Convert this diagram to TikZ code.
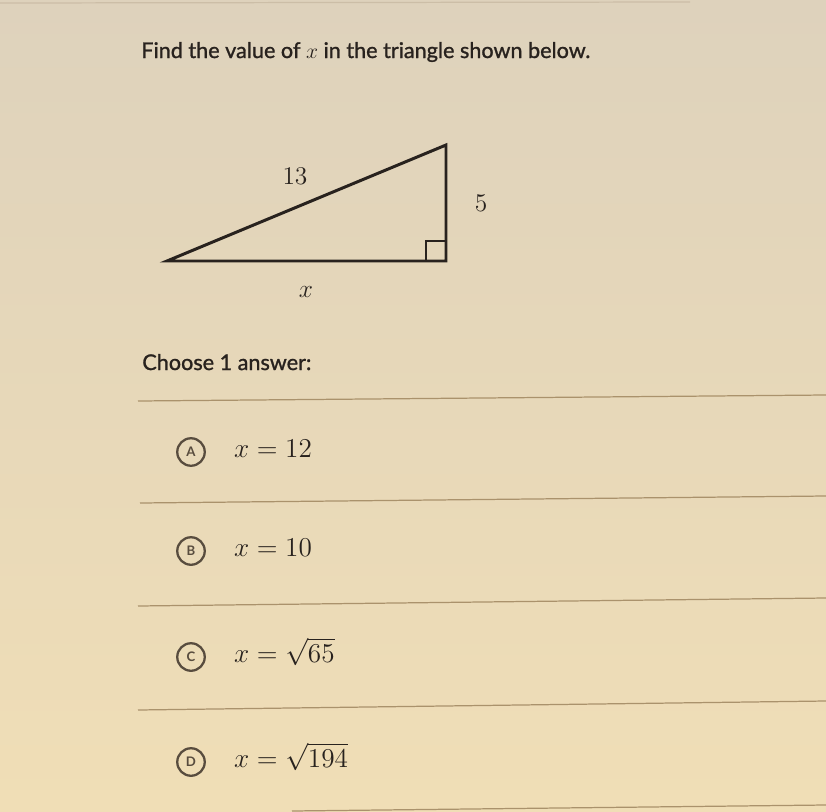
\RequirePackage{fix-cm}
\documentclass[tikz,border=0pt]{standalone}
\usepackage{fontspec}
\setmainfont{Lato}
\newfontfamily\headfont[FakeBold=1.2]{Lato}
\usetikzlibrary{positioning}
\definecolor{papertop}{RGB}{222,210,188}
\definecolor{paperlow}{RGB}{240,222,182}
\definecolor{ink}{RGB}{40,34,30}
\definecolor{rulecol}{RGB}{170,146,108}
\definecolor{badge}{RGB}{88,76,62}
\tikzset{
  side/.style={line width=1.7pt, draw=ink, line join=miter},
  sidelabel/.style={text=ink, font=\fontsize{14.5}{16}\selectfont},
  choice/.style={circle, draw=badge, line width=1.3pt, minimum size=0.55cm, inner sep=0pt,
    text=badge, font=\fontsize{7.5}{8}\selectfont\bfseries},
  answer/.style={right=0.56cm of #1, inner sep=0pt, text=ink, text height=0.8em, text depth=0.2em,
    font=\fontsize{15.5}{17}\selectfont},
  separator/.style={draw=rulecol, line width=0.7pt}
}
\begin{document}
\begin{tikzpicture}[x=0.02cm, y=-0.02cm]
    % Background of the photographed screen.
    \useasboundingbox (0,0) rectangle (826,812);
    \shade[top color=papertop, bottom color=paperlow] (0,0) rectangle (826,812);
    \draw[separator, draw=rulecol!60] (0,3) -- (690,2);
    % Question text.
    \node[anchor=base west, inner sep=0pt, text=ink, font=\fontsize{12.3}{14}\headfont] (question) at (141,58)
      {Find the value of $x$ in the triangle shown below.};
    % Draw the triangle with the right angle at the bottom right.
    \coordinate (left) at (167,261);
    \coordinate (corner) at (446,261);
    \coordinate (top) at (446,145);
    \draw[side] (left) -- (corner) -- (top) -- cycle;
    \draw[ink, line width=0.9pt] (corner) ++(-20,0) -- ++(0,-20) -- ++(20,0);
    % Lengths of the sides.
    \node[sidelabel] (hyp) at (295,176) {$13$};
    \node[sidelabel] (leg) at (481,203) {$5$};
    \node[sidelabel] (base) at (306,292) {$x$};
    % Answer choices.
    \node[anchor=base west, inner sep=0pt, text=ink, font=\fontsize{12.3}{14}\headfont] (prompt) at (142,370)
      {Choose 1 answer:};
    \draw[separator] (138,401) -- (826,395);
    \node[choice] (optA) at (191,452) {A};
    \node[answer=optA] (ansA) {$x=12$};
    \draw[separator] (140,503) -- (826,496);
    \node[choice] (optB) at (191,551) {B};
    \node[answer=optB] (ansB) {$x=10$};
    \draw[separator] (138,606) -- (826,598);
    \node[choice] (optC) at (191,657) {C};
    \node[answer=optC] (ansC) {$x=\sqrt{65}$};
    \draw[separator] (138,710) -- (826,701);
    \node[choice] (optD) at (191,762) {D};
    \node[answer=optD] (ansD) {$x=\sqrt{194}$};
    \draw[separator] (292,811) -- (826,805);
\end{tikzpicture}
\end{document}
